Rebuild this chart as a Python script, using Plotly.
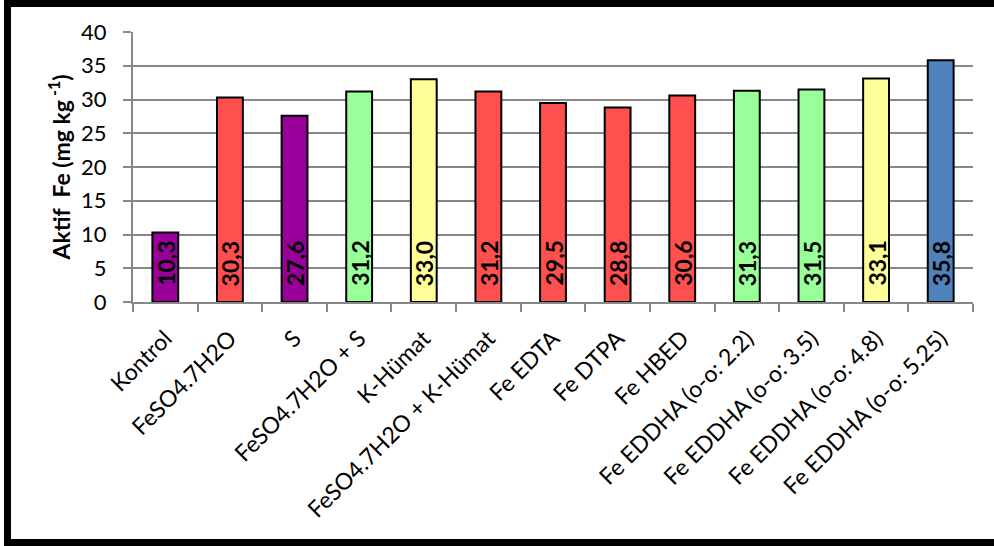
import plotly.graph_objects as go

categories = ["Kontrol", "FeSO4.7H2O", "S", "FeSO4.7H2O + S", "K-Hümat",
              "FeSO4.7H2O + K-Hümat", "Fe EDTA", "Fe DTPA", "Fe HBED",
              "Fe EDDHA (o-o: 2.2)", "Fe EDDHA (o-o: 3.5)", "Fe EDDHA (o-o: 4.8)",
              "Fe EDDHA (o-o: 5.25)"]
values = [10.3, 30.3, 27.6, 31.2, 33.0, 31.2, 29.5, 28.8, 30.6, 31.3, 31.5, 33.1, 35.8]
bar_colors = ["#990099", "#FF5050", "#990099", "#99FF99", "#FFFF99", "#FF5050",
              "#FF5050", "#FF5050", "#FF5050", "#99FF99", "#99FF99", "#FFFF99", "#4F81BD"]
y_ticks = [0, 5, 10, 15, 20, 25, 30, 35, 40]
y_title = "Aktif\u00a0 Fe (mg kg<sup> -1</sup>)"

FONT = "Lato"

fig = go.Figure()
fig.add_trace(go.Bar(
    x=categories, y=values,
    marker=dict(color=bar_colors, line=dict(color="black", width=2)),
    width=0.4,
    hoverinfo="skip",
))

for c, v in zip(categories, values):
    fig.add_annotation(
        x=c, y=0, xref="x", yref="y",
        text="<b>" + f"{v:.1f}".replace(".", ",") + "</b>",
        textangle=-90, showarrow=False,
        xanchor="center", yanchor="bottom", yshift=14,
        font=dict(family=FONT, size=23, color="black"),
    )

# outer frame (px -> paper conversion for plot area 133..973 x, 32..302 y)
def px_x(p):
    return (p - 133) / 840.0

def px_y(p):
    return (302 - p) / 270.0

fig.add_shape(type="rect", xref="paper", yref="paper",
              x0=px_x(7.5), x1=px_x(1010), y0=px_y(542.5), y1=px_y(3.5),
              line=dict(color="black", width=7), fillcolor="rgba(0,0,0,0)",
              layer="above")

fig.update_layout(
    width=994, height=546,
    margin=dict(l=133, r=21, t=32, b=244),
    paper_bgcolor="white", plot_bgcolor="white",
    showlegend=False,
    font=dict(family=FONT, size=20, color="black"),
    bargap=0.6,
)
fig.update_xaxes(
    type="category",
    tickangle=-45,
    tickson="boundaries",
    ticks="outside", ticklen=8, tickwidth=2, tickcolor="#888888",
    showline=True, linecolor="#888888", linewidth=2,
    showgrid=False,
    ticklabelstandoff=12,
    tickfont=dict(family=FONT, size=23, color="black"),
)
fig.update_yaxes(
    range=[0, 40], tickvals=y_ticks,
    ticks="outside", ticklen=8, tickwidth=2, tickcolor="#888888",
    showline=True, linecolor="#888888", linewidth=2,
    showgrid=True, gridcolor="#888888", gridwidth=2,
    zeroline=False,
    ticklabelstandoff=12,
    tickfont=dict(family=FONT, size=22, color="black"),
    title=dict(text="<b>" + y_title + "</b>", font=dict(family=FONT, size=23, color="black"), standoff=4),
)

fig.write_html("out.html")
